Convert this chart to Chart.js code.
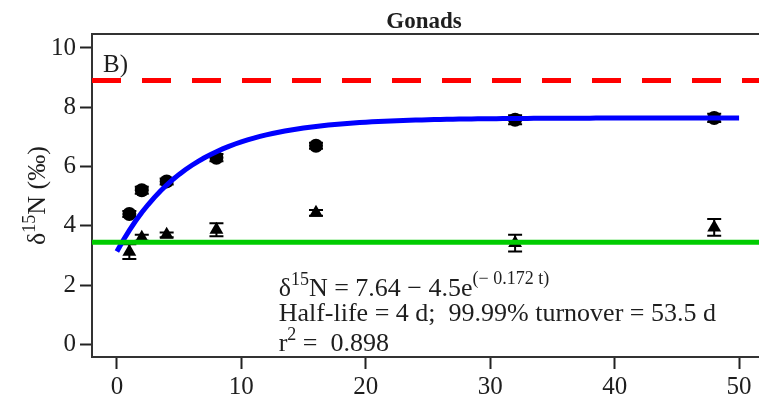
<!DOCTYPE html>
<html>
<head>
<meta charset="utf-8">
<script src="https://cdn.jsdelivr.net/npm/chart.js@4"></script>
<style>
  html, body { margin: 0; padding: 0; background: #fff; }
  #wrap { width: 759px; height: 399px; }
</style>
</head>
<body>
<div id="wrap"><canvas id="gonadsChart" width="759" height="399"></canvas></div>
<script>
// sampling days and mean d15N per group
const days = [1, 2, 4, 8, 16, 32, 48];
const circleValues = [4.4, 5.2, 5.5, 6.3, 6.7, 7.58, 7.64];
const circleErrors = [0.1, 0.12, 0.1, 0.12, 0.1, 0.15, 0.14];
const triangleValues = [3.13, 3.6, 3.7, 3.87, 4.44, 3.42, 3.95];
const triangleErrors = [0.25, 0.1, 0.08, 0.22, 0.1, 0.28, 0.28];

// reference levels
const upperLevel = 8.9;
const lowerLevel = 3.45;

// fitted exponential: d15N = a - b * exp(-k t)
const fitA = 7.64;
const fitB = 4.5;
const fitK = 0.172;
const fitStart = 0;
const fitEnd = 50;

const xTicks = [0, 10, 20, 30, 40, 50];
const yTicks = [0, 2, 4, 6, 8, 10];
const xRange = [-2, 51.6];
const yRange = [-0.42, 10.47];

const SERIF = "'Liberation Serif', 'Times New Roman', serif";
const INK = '#1e1e1e';

const fitPoints = [];
for (let t = fitStart; t <= fitEnd; t += 0.5) {
    fitPoints.push({ x: t, y: fitA - fitB * Math.exp(-fitK * t) });
}

const levelLine = (v) => [{ x: xRange[0], y: v }, { x: xRange[1], y: v }];

// draws text made of runs with optional superscripts
function drawRuns(ctx, x, y, runs) {
    let cx = x;
    runs.forEach(([txt, size, rise]) => {
        ctx.font = size + 'px ' + SERIF;
        ctx.fillText(txt, cx, y - rise);
        cx += ctx.measureText(txt).width;
    });
}

const extras = {
    id: 'extras',
    beforeDatasetsDraw(chart) {
        const { ctx, scales: { x, y } } = chart;
        ctx.save();
        ctx.strokeStyle = '#000';
        ctx.lineWidth = 2;
        const bars = (vals, errs) => {
            days.forEach((d, i) => {
                const px = x.getPixelForValue(d);
                const top = y.getPixelForValue(vals[i] + errs[i]);
                const bot = y.getPixelForValue(vals[i] - errs[i]);
                ctx.beginPath();
                ctx.moveTo(px, top); ctx.lineTo(px, bot);
                ctx.moveTo(px - 7, top); ctx.lineTo(px + 7, top);
                ctx.moveTo(px - 7, bot); ctx.lineTo(px + 7, bot);
                ctx.stroke();
            });
        };
        bars(circleValues, circleErrors);
        bars(triangleValues, triangleErrors);
        ctx.restore();
    },
    afterDraw(chart) {
        const { ctx, chartArea: a, scales: { x, y } } = chart;
        ctx.save();
        // top frame line
        ctx.strokeStyle = '#333';
        ctx.lineWidth = 2;
        ctx.beginPath();
        ctx.moveTo(a.left, a.top);
        ctx.lineTo(a.right, a.top);
        ctx.stroke();

        ctx.fillStyle = INK;
        ctx.textBaseline = 'alphabetic';

        // title
        ctx.font = 'bold 23px ' + SERIF;
        ctx.textAlign = 'center';
        ctx.fillText('Gonads', 424, 28);

        // panel letter
        ctx.textAlign = 'left';
        ctx.font = '25px ' + SERIF;
        ctx.fillText('B)', a.left + 11, 72);

        // y axis title with superscript
        ctx.save();
        ctx.translate(45, (a.top + a.bottom) / 2);
        ctx.rotate(-Math.PI / 2);
        const parts = [['δ', 26, 0], ['15', 18, 10], ['N (‰)', 26, 0]];
        let w = 0;
        parts.forEach(([t, s]) => { ctx.font = s + 'px ' + SERIF; w += ctx.measureText(t).width; });
        drawRuns(ctx, -w / 2, 0, parts);
        ctx.restore();

        // fit annotation
        const ax = x.getPixelForValue(13);
        const ay = y.getPixelForValue(1.62);
        drawRuns(ctx, ax, ay, [['δ', 26, 0], ['15', 18, 11], ['N = 7.64 \u2212 4.5e', 26, 0], ['(\u2212 0.172 t)', 18, 12]]);
        drawRuns(ctx, ax, ay + 25, [['Half-life = 4 d;  99.99% turnover = 53.5 d', 26, 0]]);
        drawRuns(ctx, ax, ay + 55, [['r', 26, 0], ['2', 18, 11], [' =  0.898', 26, 0]]);
        ctx.restore();
    }
};

new Chart(document.getElementById('gonadsChart'), {
    type: 'scatter',
    data: {
        datasets: [
            {
                data: levelLine(upperLevel),
                showLine: true,
                borderColor: '#ff0000',
                borderWidth: 5,
                borderDash: [29, 21],
                pointRadius: 0
            },
            {
                data: levelLine(lowerLevel),
                showLine: true,
                borderColor: '#00cc00',
                borderWidth: 5,
                pointRadius: 0
            },
            {
                data: fitPoints,
                showLine: true,
                borderColor: '#0000ff',
                borderWidth: 5,
                pointRadius: 0,
                tension: 0
            },
            {
                data: days.map((d, i) => ({ x: d, y: circleValues[i] })),
                pointStyle: 'circle',
                pointRadius: 7,
                backgroundColor: '#000',
                borderColor: '#000',
                borderWidth: 0
            },
            {
                data: days.map((d, i) => ({ x: d, y: triangleValues[i] })),
                pointStyle: 'triangle',
                pointRadius: 8,
                backgroundColor: '#000',
                borderColor: '#000',
                borderWidth: 0
            }
        ]
    },
    options: {
        responsive: false,
        animation: false,
        layout: { autoPadding: false, padding: { top: 34, right: 0, bottom: 0, left: 0 } },
        plugins: {
            legend: { display: false },
            tooltip: { enabled: false }
        },
        scales: {
            x: {
                type: 'linear',
                min: xRange[0],
                max: xRange[1],
                afterBuildTicks: (s) => { s.ticks = xTicks.map(v => ({ value: v })); },
                afterFit: (s) => { s.height = 42; s.paddingLeft = 0; s.paddingRight = 0; },
                grid: { drawOnChartArea: false, drawTicks: true, tickLength: 12, tickWidth: 2, tickColor: '#222' },
                border: { display: true, color: '#333', width: 2 },
                ticks: { color: INK, padding: 3, maxRotation: 0, font: { family: SERIF, size: 25 } }
            },
            y: {
                type: 'linear',
                min: yRange[0],
                max: yRange[1],
                afterBuildTicks: (s) => { s.ticks = yTicks.map(v => ({ value: v })); },
                afterFit: (s) => { s.width = 92; s.paddingTop = 0; s.paddingBottom = 0; },
                grid: { drawOnChartArea: false, drawTicks: true, tickLength: 12, tickWidth: 2, tickColor: '#222' },
                border: { display: true, color: '#333', width: 2 },
                ticks: { color: INK, padding: 4, font: { family: SERIF, size: 25 } }
            }
        }
    },
    plugins: [extras]
});
</script>
</body>
</html>
